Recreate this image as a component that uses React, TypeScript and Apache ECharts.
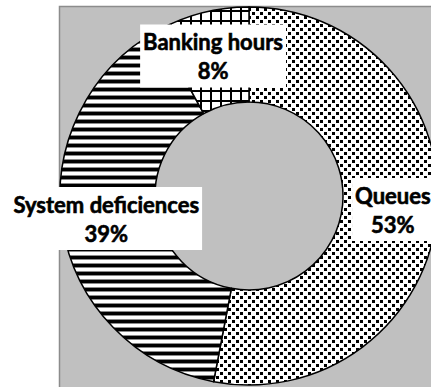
import React, { useEffect, useRef } from "react";
import * as echarts from "echarts";

// Reasons given, and each one's share of responses (in %)
const categories = ["Queues", "System deficiences", "Banking hours"];
const shares = [53, 39, 8];
// Fill pattern used for each category's slice
const patterns = ["dots", "hlines", "grid"];

function makeTile(kind: string): HTMLCanvasElement {
  const c = document.createElement("canvas");
  let w = 8;
  let h = 8;
  if (kind === "grid") { w = 10; h = 10; }
  c.width = w;
  c.height = h;
  const ctx = c.getContext("2d")!;
  ctx.fillStyle = "#fff";
  ctx.fillRect(0, 0, w, h);
  ctx.fillStyle = "#000";
  if (kind === "dots") {
    ctx.fillRect(0, 0, 3, 3);
    ctx.fillRect(4, 4, 3, 3);
  } else if (kind === "hlines") {
    ctx.fillRect(0, 0, w, 3);
    ctx.fillStyle = "#8a8a8a";
    ctx.fillRect(0, 3, w, 1);
    ctx.fillRect(0, 7, w, 1);
  } else {
    ctx.fillRect(0, 0, 2, h);
    ctx.fillRect(0, 0, w, 2);
  }
  return c;
}

export default function App() {
  const ref = useRef<HTMLDivElement>(null);

  useEffect(() => {
    if (!ref.current) return;
    const chart = echarts.init(ref.current, null, { renderer: "svg" });

    const data = categories.map((name, i) => ({
      name,
      value: shares[i],
      itemStyle: {
        color: { image: makeTile(patterns[i]), repeat: "repeat" } as any,
      },
    }));

    chart.setOption({
      animation: false,
      backgroundColor: "#ffffff",
      graphic: [
        {
          type: "rect",
          z: 0,
          shape: { x: 59.5, y: 6.5, width: 600, height: 600 },
          style: { fill: "#c0c0c0", stroke: "#8c8c8c", lineWidth: 1.5 },
        },
      ],
      series: [
        {
          type: "pie",
          z: 2,
          center: [249, 196],
          radius: [94, 189],
          startAngle: 90,
          clockwise: true,
          avoidLabelOverlap: false,
          silent: true,
          itemStyle: { borderColor: "#000", borderWidth: 1.5 },
          label: {
            show: true,
            position: "inside",
            formatter: "{b}\n{c}%",
            fontFamily: "Lato",
            fontWeight: "bold",
            fontSize: 22,
            lineHeight: 29,
            color: "#000",
            textBorderColor: "#000",
            textBorderWidth: 0.6,
            backgroundColor: "#ffffff",
            padding: [3, 3, 2, 3],
            align: "center",
          },
          labelLine: { show: false },
          emphasis: { disabled: true },
          data,
        },
      ],
    });

    return () => chart.dispose();
  }, []);

  return (
    <div
      ref={ref}
      style={{ position: "absolute", left: 0, top: 0, width: 431, height: 387 }}
    />
  );
}
